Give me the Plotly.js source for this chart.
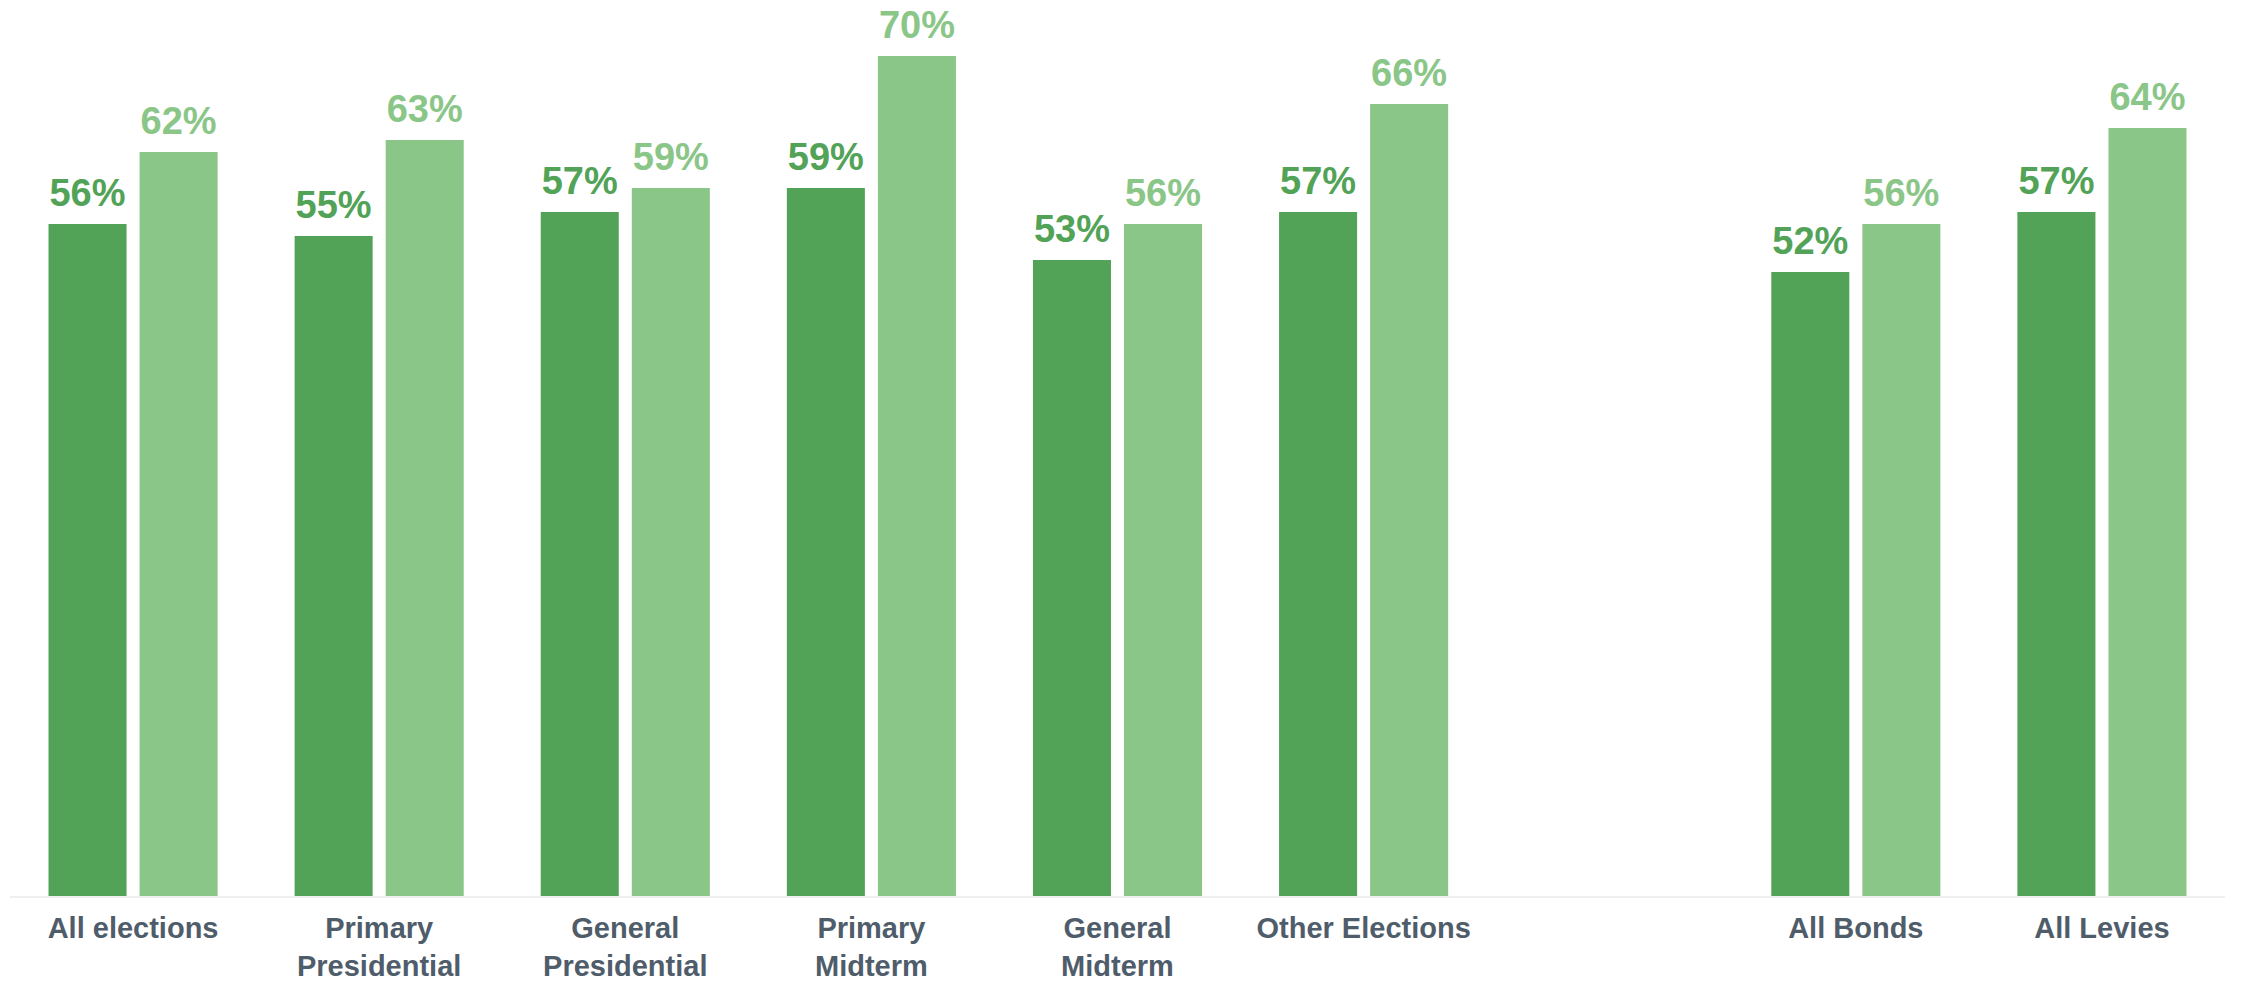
<!DOCTYPE html>
<html>
<head>
<meta charset="utf-8">
<script src="https://cdn.plot.ly/plotly-3.0.1.min.js"></script>
<style>
html,body{margin:0;padding:0;background:#fff;}
#chart{width:2247px;height:986px;}
</style>
</head>
<body>
<div id="chart"></div>
<script>
const categories = ['All elections', 'Primary<br>Presidential', 'General<br>Presidential', 'Primary<br>Midterm', 'General<br>Midterm', 'Other Elections', ' ', 'All Bonds', 'All Levies'];
const seriesDark = [56, 55, 57, 59, 53, 57, null, 52, 57];
const seriesLight = [62, 63, 59, 70, 56, 66, null, 56, 64];

const darkColor = '#52a357';
const lightColor = '#8bc689';
const fontFamily = 'Liberation Sans, Arial, sans-serif';

function barTrace(values, color, grp) {
  return {
    type: 'bar',
    x: categories,
    y: values,
    offsetgroup: grp,
    marker: {color: color},
    hoverinfo: 'none'
  };
}

function labelTrace(values, color, grp) {
  return {
    type: 'scatter',
    mode: 'markers+text',
    x: categories,
    y: values,
    offsetgroup: grp,
    marker: {size: 12, opacity: 0, color: color},
    texttemplate: '%{y}%',
    textposition: 'top center',
    textfont: {family: fontFamily, size: 38, color: color, weight: 'bold'},
    cliponaxis: false,
    hoverinfo: 'none'
  };
}

const data = [
  barTrace(seriesDark, darkColor, 'a'),
  barTrace(seriesLight, lightColor, 'b'),
  labelTrace(seriesDark, darkColor, 'a'),
  labelTrace(seriesLight, lightColor, 'b')
];

const layout = {
  width: 2247,
  height: 986,
  margin: {l: 10, r: 22, t: 0, b: 90},
  paper_bgcolor: '#ffffff',
  plot_bgcolor: '#ffffff',
  showlegend: false,
  barmode: 'group',
  bargap: 0.26,
  bargroupgap: 0.143,
  scattermode: 'group',
  scattergap: 0.26,
  font: {family: fontFamily},
  xaxis: {
    type: 'category',
    categoryorder: 'array',
    categoryarray: categories,
    showgrid: false,
    zeroline: false,
    showline: true,
    linecolor: '#efefef',
    linewidth: 2,
    ticks: '',
    ticklabelstandoff: 5,
    tickfont: {family: fontFamily, size: 29, color: '#4f5d6b', weight: 'bold'},
    fixedrange: true
  },
  yaxis: {
    range: [0, 74.67],
    visible: false,
    showgrid: false,
    zeroline: false,
    fixedrange: true
  }
};

Plotly.newPlot('chart', data, layout, {displayModeBar: false, staticPlot: true});
</script>
</body>
</html>
